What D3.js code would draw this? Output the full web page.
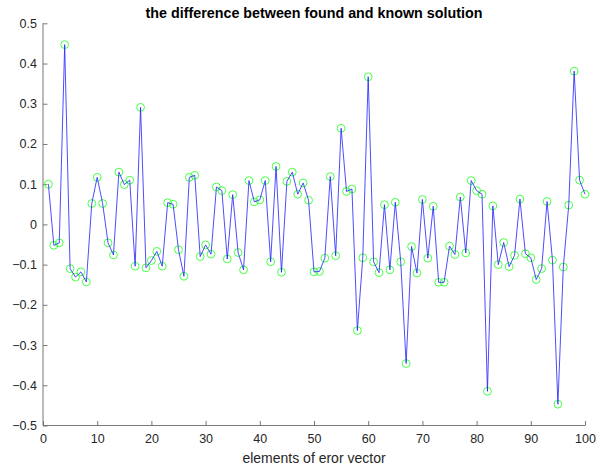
<!DOCTYPE html>
<html><head><meta charset="utf-8">
<script src="https://cdn.jsdelivr.net/npm/d3@7"></script>
<style>body{margin:0;background:#fff;} svg{display:block;}</style>
</head><body>
<svg id="chart" width="597" height="470"></svg>
<script>
const titleText = "the difference between found and known solution";
const xLabelText = "elements of eror vector";
const xTicks = [0,10,20,30,40,50,60,70,80,90,100];
const yTicks = [-0.5,-0.4,-0.3,-0.2,-0.1,0,0.1,0.2,0.3,0.4,0.5];
const values = [
  0.100,-0.052,-0.046,0.447,-0.110,-0.131,-0.118,-0.143,0.052,0.117,
  0.052,-0.046,-0.076,0.130,0.099,0.110,-0.104,0.291,-0.108,-0.090,
  -0.067,-0.104,0.054,0.050,-0.063,-0.129,0.117,0.122,-0.080,-0.051,
  -0.074,0.093,0.084,-0.086,0.074,-0.070,-0.113,0.109,0.056,0.061,
  0.109,-0.093,0.144,-0.119,0.107,0.130,0.075,0.103,0.060,-0.118,
  -0.117,-0.084,0.119,-0.078,0.239,0.082,0.088,-0.264,-0.083,0.367,
  -0.093,-0.120,0.049,-0.113,0.055,-0.093,-0.346,-0.055,-0.121,0.062,
  -0.084,0.045,-0.144,-0.144,-0.054,-0.075,0.068,-0.071,0.109,0.084,
  0.075,-0.415,0.046,-0.100,-0.045,-0.105,-0.077,0.063,-0.073,-0.083,
  -0.137,-0.110,0.057,-0.089,-0.447,-0.106,0.048,0.381,0.110,0.075
];
const data = values.map((v,i)=>({x:i+1,y:v}));

const svg = d3.select("#chart");
const L=43, R=585, T=23.3, B=425.5;
const x = d3.scaleLinear().domain([0,100]).range([L,R]);
const y = d3.scaleLinear().domain([-0.5,0.5]).range([B,T]);
const axisColor = "#262626";
const font = "'Liberation Sans', Arial, Helvetica, sans-serif";

// axes
const xAxis = svg.append("g").attr("transform",`translate(0,${B})`)
  .call(d3.axisBottom(x).tickValues(xTicks).tickSize(-4.5).tickPadding(9).tickFormat(d3.format("d")));
const yAxis = svg.append("g").attr("transform",`translate(${L},0)`)
  .call(d3.axisLeft(y).tickValues(yTicks).tickSize(-4.5).tickPadding(6).tickFormat(d=> d===0?"0":d3.format(".1f")(d)));
[xAxis,yAxis].forEach(g=>{
  g.select(".domain").attr("stroke","#6a6a6a").attr("stroke-width",0.9);
  g.selectAll(".tick line").attr("stroke","#6a6a6a").attr("stroke-width",0.9);
  g.selectAll(".tick text").attr("fill",axisColor).style("font-family",font).style("font-size","12.5px");
});
xAxis.select(".domain").attr("d",`M${L},0H${R}`);
yAxis.select(".domain").attr("d",`M0,${T}V${B}`);

// markers
svg.append("g").selectAll("circle").data(data).join("circle")
  .attr("cx",d=>x(d.x)).attr("cy",d=>y(d.y)).attr("r",3.9)
  .attr("fill","none").attr("stroke","#33ff33").attr("stroke-width",0.9);

// line
const line = d3.line().x(d=>x(d.x)).y(d=>y(d.y));
svg.append("path").datum(data).attr("d",line)
  .attr("fill","none").attr("stroke","#2020ff").attr("stroke-width",0.8);

// title
svg.append("text").attr("x",(L+R)/2).attr("y",17.5).attr("text-anchor","middle")
  .style("font-family",font).style("font-size","14.3px").style("font-weight","bold")
  .attr("fill","#000").text(titleText);
// x label
svg.append("text").attr("x",(L+R)/2).attr("y",463).attr("text-anchor","middle")
  .style("font-family",font).style("font-size","14px").attr("fill",axisColor).text(xLabelText);
</script>
</body></html>
